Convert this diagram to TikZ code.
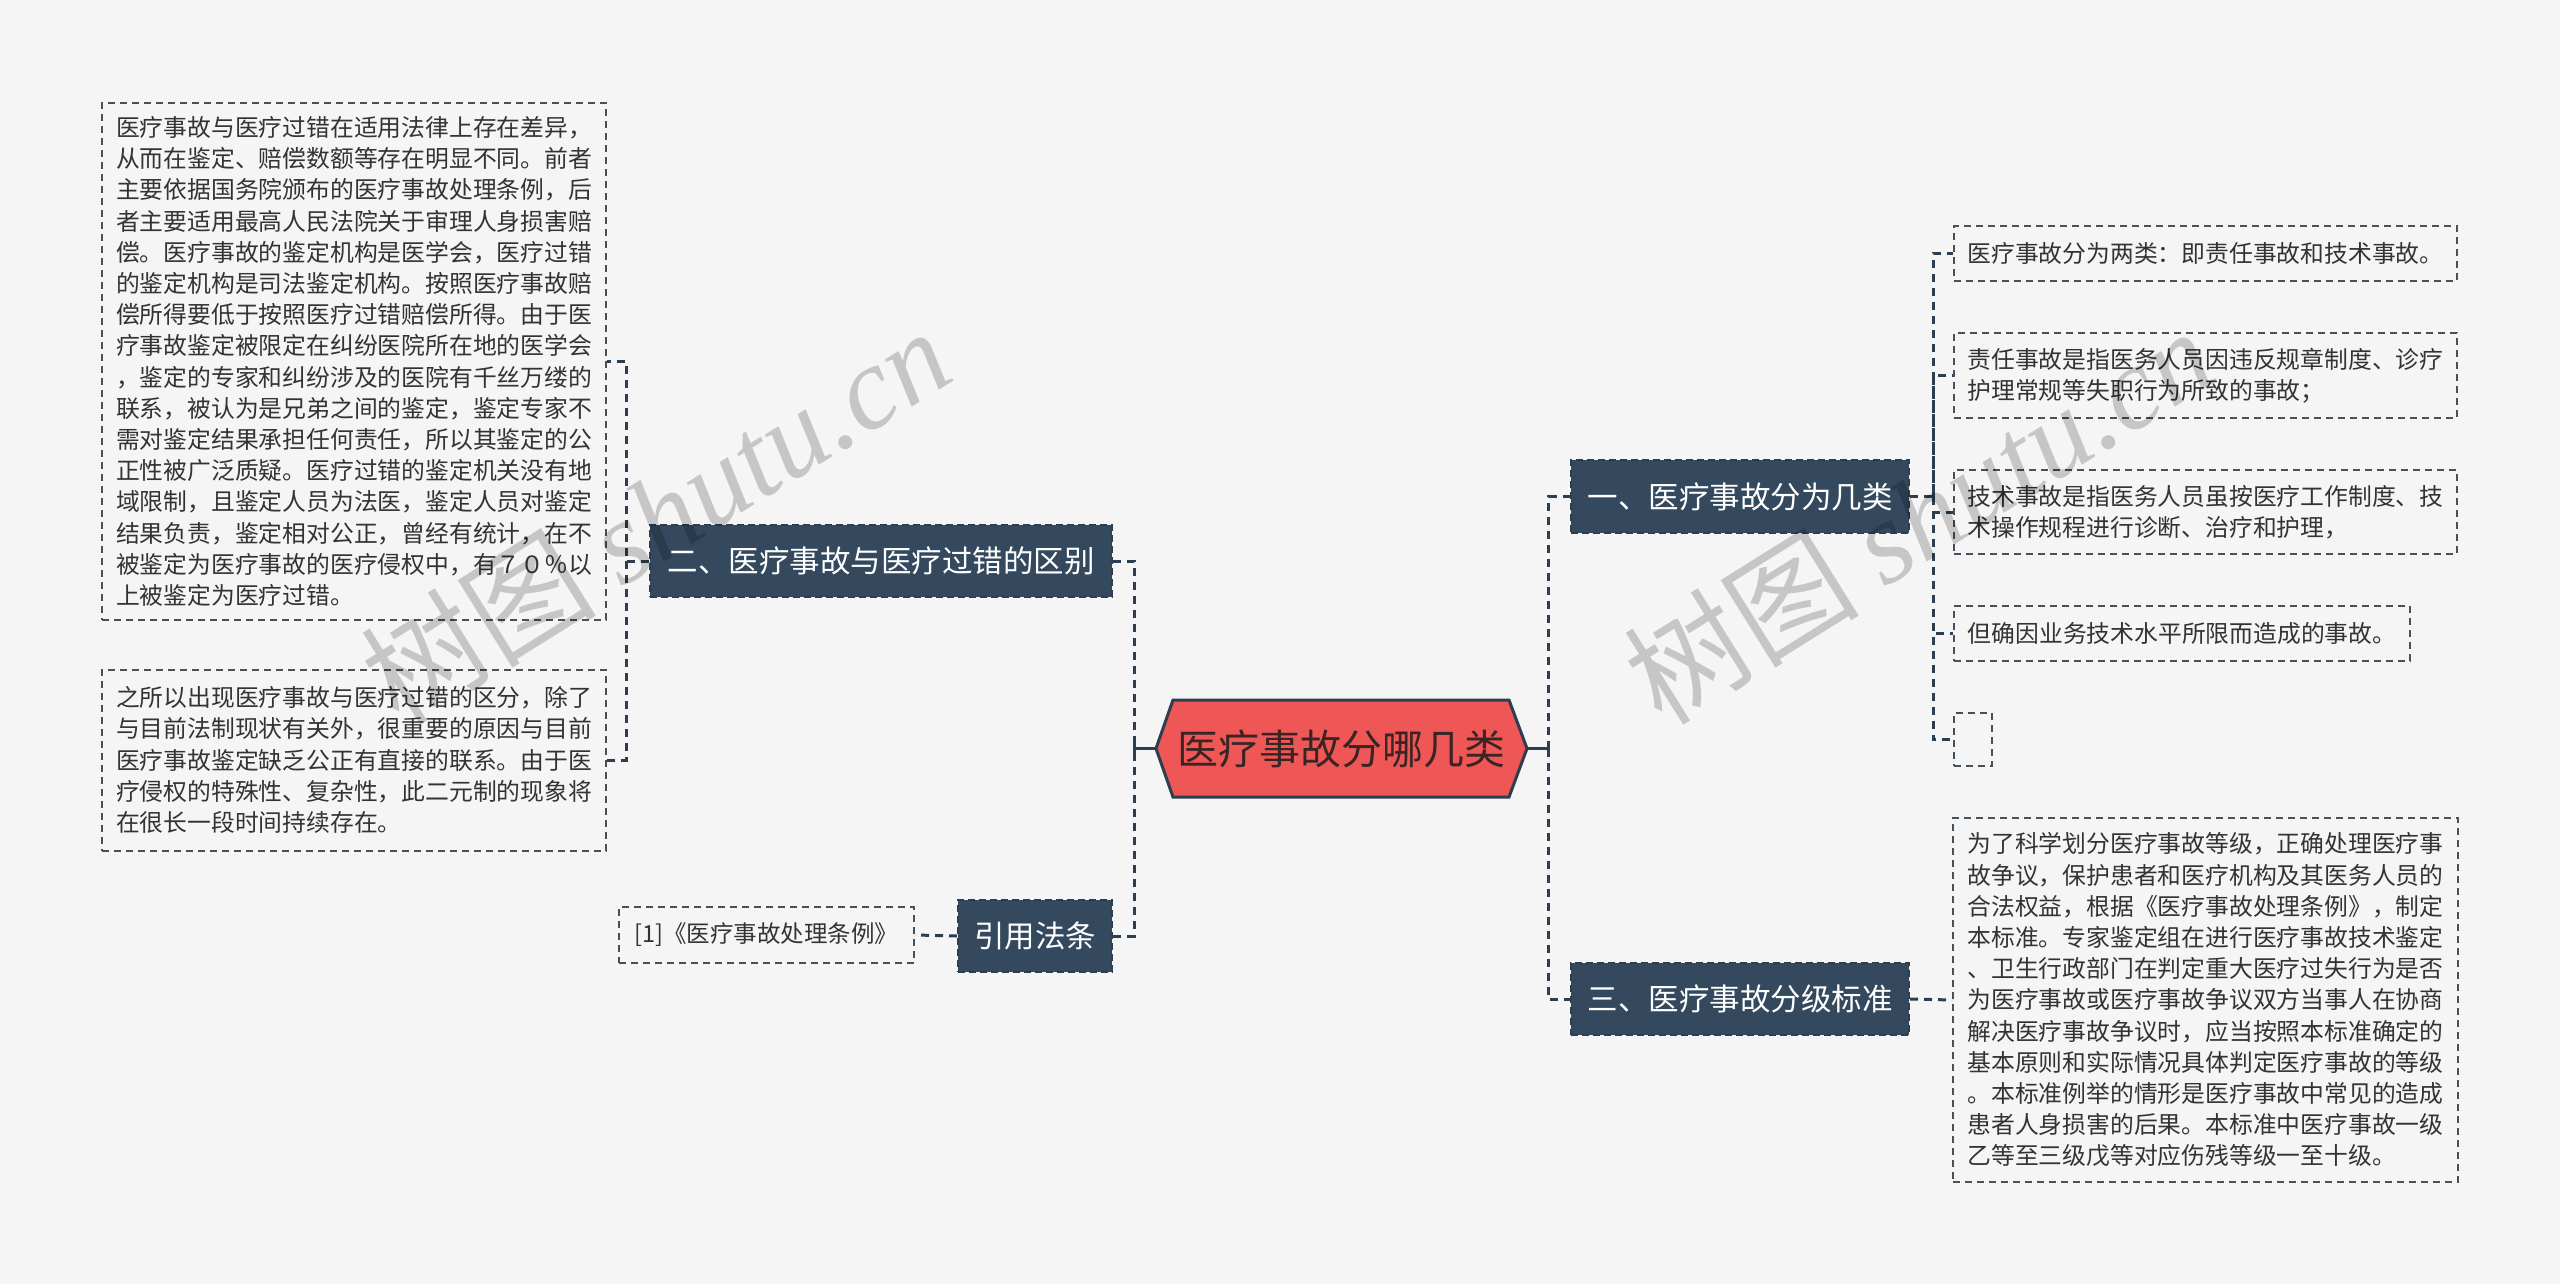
\documentclass[tikz,border=0pt]{standalone}
\usepackage{fontspec}
\setmainfont{Noto Sans CJK SC}
\newfontfamily\wmlatin{Liberation Serif}
\usetikzlibrary{calc}
\definecolor{bg}{HTML}{F5F5F5}
\definecolor{navy}{HTML}{34495E}
\definecolor{linkc}{HTML}{2C3E50}
\definecolor{boxline}{HTML}{47515C}
\definecolor{txt}{HTML}{333333}
\definecolor{rootfill}{HTML}{EF5656}
\definecolor{roottxt}{HTML}{3A2424}
\tikzset{
  leaf/.style={draw=boxline, line width=2pt, dash pattern=on 7pt off 5pt, text=txt,
    font=\fontsize{23.8pt}{31.2pt}\selectfont, align=left, inner sep=0pt},
  branch/.style={fill=navy, draw=linkc, line width=2pt, dash pattern=on 7pt off 4pt,
    text=white, font=\fontsize{30.5pt}{36pt}\selectfont, inner sep=0pt},
  dashlink/.style={draw=linkc, line width=3pt, dash pattern=on 8pt off 6pt},
  solidlink/.style={draw=linkc, line width=3pt},
  rootshape/.style={fill=rootfill, draw=linkc, line width=3pt, line join=miter},
  roottext/.style={text=roottxt, font=\fontsize{41pt}{48pt}\selectfont, inner sep=0pt},
  wm/.style={text=black, text opacity=0.19, font=\fontsize{118pt}{126pt}\selectfont, inner sep=0pt},
}
\begin{document}
\begin{tikzpicture}[x=1pt, y=-1pt]
\useasboundingbox[fill=bg] (0,0) rectangle (2560,1284);

% central node
\coordinate (rootW) at (1156,748.5);
\coordinate (rootE) at (1527,748.5);
\filldraw[rootshape] (rootW) -- (1173,700) -- (1509,700) -- (rootE) -- (1509,797) -- (1173,797) -- cycle;
\node[roottext] (root) at (1341.5,748.5) {医疗事故分哪几类};

% left branches
\node[branch, minimum width=462pt, minimum height=72pt] (br2) at (881,561) {二、医疗事故与医疗过错的区别};
\node[branch, minimum width=154pt, minimum height=72pt] (law) at (1035,936) {引用法条};

\node[leaf, minimum width=504pt, minimum height=517pt] (b1) at (354,361.5) {%
医疗事故与医疗过错在适用法律上存在差异，\\
从而在鉴定、赔偿数额等存在明显不同。前者\\
主要依据国务院颁布的医疗事故处理条例，后\\
者主要适用最高人民法院关于审理人身损害赔\\
偿。医疗事故的鉴定机构是医学会，医疗过错\\
的鉴定机构是司法鉴定机构。按照医疗事故赔\\
偿所得要低于按照医疗过错赔偿所得。由于医\\
疗事故鉴定被限定在纠纷医院所在地的医学会\\
，鉴定的专家和纠纷涉及的医院有千丝万缕的\\
联系，被认为是兄弟之间的鉴定，鉴定专家不\\
需对鉴定结果承担任何责任，所以其鉴定的公\\
正性被广泛质疑。医疗过错的鉴定机关没有地\\
域限制，且鉴定人员为法医，鉴定人员对鉴定\\
结果负责，鉴定相对公正，曾经有统计，在不\\
被鉴定为医疗事故的医疗侵权中，有７０％以\\
上被鉴定为医疗过错。};

\node[leaf, minimum width=504pt, minimum height=181pt] (b2) at (354,760) {%
之所以出现医疗事故与医疗过错的区分，除了\\
与目前法制现状有关外，很重要的原因与目前\\
医疗事故鉴定缺乏公正有直接的联系。由于医\\
疗侵权的特殊性、复杂性，此二元制的现象将\\
在很长一段时间持续存在。};

\node[leaf, minimum width=295pt, minimum height=56pt, font=\fontsize{23.5pt}{28pt}\selectfont] (ref) at (766.5,935) {[1]《医疗事故处理条例》};

% right branches
\node[branch, minimum width=338pt, minimum height=73pt] (br1) at (1740,496.5) {一、医疗事故分为几类};
\node[branch, minimum width=338pt, minimum height=72pt] (br3) at (1740,999) {三、医疗事故分级标准};

\node[leaf, minimum width=503pt, minimum height=55pt] (a1) at (2205.5,253.5) {医疗事故分为两类：即责任事故和技术事故。};
\node[leaf, minimum width=503pt, minimum height=85pt] (a2) at (2205.5,375.5) {%
责任事故是指医务人员因违反规章制度、诊疗\\
护理常规等失职行为所致的事故；};
\node[leaf, minimum width=503pt, minimum height=84pt] (a3) at (2205.5,512) {%
技术事故是指医务人员虽按医疗工作制度、技\\
术操作规程进行诊断、治疗和护理，};
\node[leaf, minimum width=456pt, minimum height=55pt] (a4) at (2182,633.5) {但确因业务技术水平所限而造成的事故。};
\node[leaf, minimum width=38pt, minimum height=53pt] (a5) at (1973,739.5) {};

\node[leaf, minimum width=505pt, minimum height=364pt] (f1) at (2205.5,1000) {%
为了科学划分医疗事故等级，正确处理医疗事\\
故争议，保护患者和医疗机构及其医务人员的\\
合法权益，根据《医疗事故处理条例》，制定\\
本标准。专家鉴定组在进行医疗事故技术鉴定\\
、卫生行政部门在判定重大医疗过失行为是否\\
为医疗事故或医疗事故争议双方当事人在协商\\
解决医疗事故争议时，应当按照本标准确定的\\
基本原则和实际情况具体判定医疗事故的等级\\
。本标准例举的情形是医疗事故中常见的造成\\
患者人身损害的后果。本标准中医疗事故一级\\
乙等至三级戊等对应伤残等级一至十级。};

% connectors: root to hubs
\coordinate (hubL) at (1134,748.5);
\coordinate (hubR) at (1548.5,748.5);
\draw[solidlink] (rootW) -- (hubL);
\draw[solidlink] (rootE) -- (hubR);
\draw[solidlink] ($(hubL)+(0,-8)$) -- ($(hubL)+(0,8)$);
\draw[solidlink] ($(hubR)+(0,-8)$) -- ($(hubR)+(0,8)$);

\draw[dashlink] (br2.east) -| (hubL);
\draw[dashlink] (law.east) -| (hubL);
\draw[dashlink] (hubR) |- (br1.west);
\draw[dashlink] (hubR) |- (br3.west);

% left sub-connectors
\draw[dashlink] (br2.west) -- ++(-23,0) coordinate (h2) |- (b1.east);
\draw[dashlink] (h2) |- (b2.east);
\draw[dashlink] (law.west) -- (ref.east);

% right sub-connectors
\draw[dashlink] (br1.east) -- ++(23,0) coordinate (h1) |- (a1.west);
\draw[dashlink] (h1) |- (a2.west);
\draw[dashlink] (h1) |- (a3.west);
\draw[dashlink] (h1) |- (a4.west);
\draw[dashlink] (h1) |- (a5.west);
\draw[dashlink] (br3.east) -- (f1.west);

% watermarks
\node[wm, rotate=32] (wm1) at (655,515) {树图 {\wmlatin\itshape shutu.cn}};
\node[wm, rotate=32] (wm2) at (1918,515) {树图 {\wmlatin\itshape shutu.cn}};
\end{tikzpicture}
\end{document}
